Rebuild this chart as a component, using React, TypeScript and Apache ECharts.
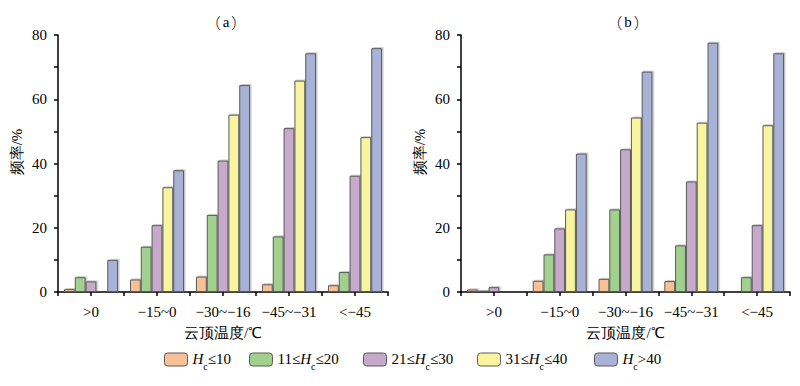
import React, { useEffect, useRef } from "react";
import * as echarts from "echarts";

const categories = [">0", "−15~0", "−30~−16", "−45~−31", "<−45"];
const seriesNames = ["Hc≤10", "11≤Hc≤20", "21≤Hc≤30", "31≤Hc≤40", "Hc>40"];
const legendRich = [
  "{i|H}{s|c}{n|≤10}",
  "{n|11≤}{i|H}{s|c}{n|≤20}",
  "{n|21≤}{i|H}{s|c}{n|≤30}",
  "{n|31≤}{i|H}{s|c}{n|≤40}",
  "{i|H}{s|c}{n|>40}",
];
const colors = ["#F9C193", "#A2D08E", "#C7AACB", "#F8F4A0", "#A8B1D6"];

// panel (a)
const aH10 = [0.9, 3.9, 4.8, 2.4, 2.1];
const aH20 = [4.6, 14.1, 24.0, 17.3, 6.2];
const aH30 = [3.3, 20.8, 40.9, 51.0, 36.2];
const aH40 = [0, 32.6, 55.2, 65.8, 48.2];
const aH41 = [10.0, 37.9, 64.4, 74.3, 75.9];
// panel (b)
const bH10 = [0.8, 3.5, 4.1, 3.4, 0];
const bH20 = [0.4, 11.7, 25.7, 14.5, 4.6];
const bH30 = [1.5, 19.8, 44.4, 34.4, 20.8];
const bH40 = [0, 25.7, 54.3, 52.7, 51.9];
const bH41 = [0, 43.1, 68.6, 77.6, 74.3];

const yTicks = [0, 20, 40, 60, 80];
const panelLetters = ["a", "b"];
const xName = "云顶温度/℃";
const yName = "频率/%";

const FONT = "Liberation Serif";
const FS = 15;
const legendLefts = [164, 249, 363, 477, 594];

export default function App() {
  const ref = useRef<HTMLDivElement>(null);
  useEffect(() => {
    if (!ref.current) return;
    const chart = echarts.init(ref.current, null, { renderer: "svg" });
    const grids = [
      { left: 58, width: 330, top: 35, bottom: 94 },
      { left: 461, width: 329, top: 35, bottom: 94 },
    ];
    const catAxis = (gi: number) => ({
      type: "category",
      gridIndex: gi,
      data: categories,
      position: "bottom",
      axisLine: { show: true, lineStyle: { color: "#000", width: 1.5 } },
      axisTick: { show: false },
      axisLabel: { color: "#000", fontSize: FS, fontFamily: FONT, margin: 12, interval: 0 },
      name: xName,
      nameLocation: "middle",
      nameGap: 33,
      nameTextStyle: { color: "#000", fontSize: FS, fontFamily: FONT },
    });
    const tickAxis = (gi: number) => ({
      type: "value",
      gridIndex: gi,
      min: 0,
      max: 5,
      interval: 0.5,
      position: "bottom",
      axisLine: { show: false },
      axisTick: { show: true, length: 4, lineStyle: { color: "#000", width: 1.5 } },
      axisLabel: { show: false },
      splitLine: { show: false },
    });
    const valAxis = (gi: number) => ({
      type: "value",
      gridIndex: gi,
      min: yTicks[0],
      max: yTicks[yTicks.length - 1],
      interval: 20,
      axisLine: { show: true, lineStyle: { color: "#000", width: 1.5 } },
      axisTick: { show: true, length: 4, lineStyle: { color: "#000", width: 1.5 } },
      minorTick: { show: true, splitNumber: 2, length: 4, lineStyle: { color: "#000", width: 1.5 } },
      axisLabel: { color: "#000", fontSize: FS, fontFamily: FONT, margin: 11 },
      splitLine: { show: false },
    });
    const dataA = [aH10, aH20, aH30, aH40, aH41];
    const dataB = [bH10, bH20, bH30, bH40, bH41];
    const mkSeries = (data: number[][], gi: number) =>
      data.map((d, i) => ({
        type: "bar",
        name: seriesNames[i],
        xAxisIndex: gi,
        yAxisIndex: gi,
        data: d,
        barGap: "0%",
        barCategoryGap: "18%",
        itemStyle: {
          color: colors[i],
          borderColor: "#5a5a5a",
          borderWidth: 1,
          shadowColor: "rgba(0,0,0,0.22)",
          shadowOffsetX: 1.5,
          shadowOffsetY: -1,
          shadowBlur: 0,
        },
      }));
    const nameStyle = { fontSize: FS, fontFamily: FONT, fill: "#000" };
    const titleRich = {
      p: { fontSize: FS, fontFamily: "Noto Sans CJK SC", fontWeight: 300, color: "#000" },
      l: { fontSize: FS, fontFamily: FONT, color: "#000", padding: [0, 2, 0, 2] },
    };
    const legends = seriesNames.map((nm, i) => ({
      data: [nm],
      left: legendLefts[i],
      top: 351,
      itemWidth: 23,
      itemHeight: 13,
      itemGap: 0,
      padding: 0,
      itemStyle: { borderColor: "#5a5a5a", borderWidth: 1 },
      formatter: (name: string) => legendRich[seriesNames.indexOf(name)],
      textStyle: {
        color: "#000",
        fontSize: FS,
        fontFamily: FONT,
        rich: {
          n: { fontSize: FS, fontFamily: FONT, color: "#000", verticalAlign: "top", lineHeight: 17 },
          i: { fontSize: FS, fontFamily: FONT, fontStyle: "italic", color: "#000", verticalAlign: "top", lineHeight: 17 },
          s: { fontSize: 10, fontFamily: FONT, color: "#000", verticalAlign: "top", lineHeight: 10, padding: [10, 0, 0, 0] },
        },
      },
    }));
    chart.setOption({
      animation: false,
      backgroundColor: "#fff",
      grid: grids,
      xAxis: [catAxis(0), catAxis(1), tickAxis(0), tickAxis(1)],
      yAxis: [valAxis(0), valAxis(1)],
      legend: legends,
      graphic: [
        { type: "text", x: 226, y: 22, style: { text: `{p|（}{l|${panelLetters[0]}}{p|）}`, rich: titleRich, textAlign: "center", textVerticalAlign: "middle" } },
        { type: "text", x: 628, y: 22, style: { text: `{p|（}{l|${panelLetters[1]}}{p|）}`, rich: titleRich, textAlign: "center", textVerticalAlign: "middle" } },
        { type: "text", x: 17, y: 152, rotation: Math.PI / 2, style: { ...nameStyle, text: yName, textAlign: "center", textVerticalAlign: "middle" } },
        { type: "text", x: 420, y: 152, rotation: Math.PI / 2, style: { ...nameStyle, text: yName, textAlign: "center", textVerticalAlign: "middle" } },
      ],
      series: [...mkSeries(dataA, 0), ...mkSeries(dataB, 1)],
    });
    return () => chart.dispose();
  }, []);
  return <div ref={ref} style={{ position: "absolute", left: 0, top: 0, width: 800, height: 386 }} />;
}
